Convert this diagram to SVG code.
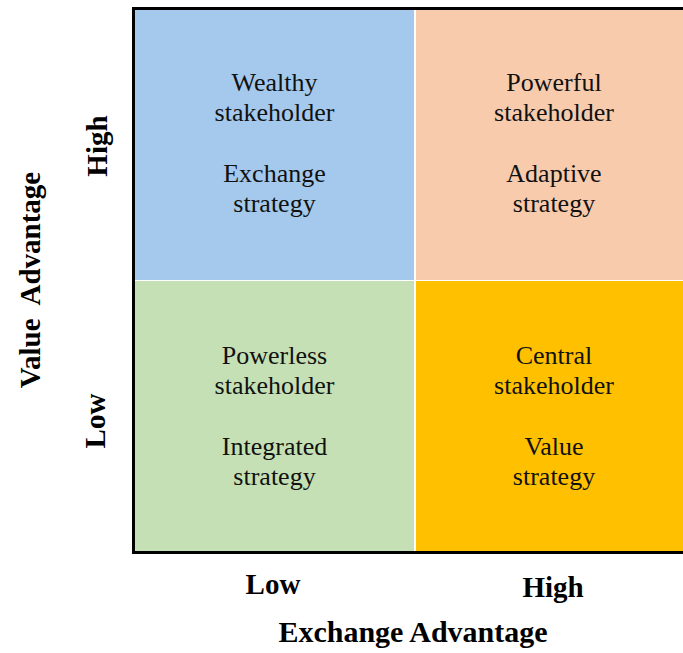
<svg xmlns="http://www.w3.org/2000/svg" width="683" height="653" viewBox="0 0 683 653">
  <style>
    .cell { font-family: "Liberation Serif", "Times New Roman", serif; font-size: 26px; fill: #111; text-anchor: middle; }
    .axis { font-family: "Liberation Serif", "Times New Roman", serif; font-size: 29px; font-weight: bold; fill: #000; text-anchor: middle; }
    .title { font-size: 30px; }
  </style>
  <rect width="683" height="653" fill="#ffffff"/>

  <!-- quadrants -->
  <g id="q-wealthy">
    <rect x="135" y="10" width="279" height="270" fill="#A4C9EC"/>
    <text class="cell" x="274.5" y="91">Wealthy</text>
    <text class="cell" x="274.5" y="121">stakeholder</text>
    <text class="cell" x="274.5" y="182">Exchange</text>
    <text class="cell" x="274.5" y="212">strategy</text>
  </g>
  <g id="q-powerful">
    <rect x="416" y="10" width="267" height="270" fill="#F8CBAD"/>
    <text class="cell" x="554" y="91">Powerful</text>
    <text class="cell" x="554" y="121">stakeholder</text>
    <text class="cell" x="554" y="182">Adaptive</text>
    <text class="cell" x="554" y="212">strategy</text>
  </g>
  <g id="q-powerless">
    <rect x="135" y="281" width="279" height="270" fill="#C5E0B4"/>
    <text class="cell" x="274.5" y="364">Powerless</text>
    <text class="cell" x="274.5" y="394">stakeholder</text>
    <text class="cell" x="274.5" y="455">Integrated</text>
    <text class="cell" x="274.5" y="485">strategy</text>
  </g>
  <g id="q-central">
    <rect x="416" y="281" width="267" height="270" fill="#FFC000"/>
    <text class="cell" x="554" y="364">Central</text>
    <text class="cell" x="554" y="394">stakeholder</text>
    <text class="cell" x="554" y="455">Value</text>
    <text class="cell" x="554" y="485">strategy</text>
  </g>

  <!-- axes frame -->
  <g id="axes" fill="none" stroke="#000" stroke-width="3">
    <polyline points="683,8.5 133.5,8.5 133.5,552.5 683,552.5"/>
  </g>

  <!-- axis labels -->
  <g id="labels">
    <text class="axis" x="273" y="594">Low</text>
    <text class="axis" x="553" y="597">High</text>
    <text class="axis title" x="413" y="642">Exchange Advantage</text>
    <text class="axis" transform="translate(107,146) rotate(-90)" x="0" y="0">High</text>
    <text class="axis" transform="translate(105,421) rotate(-90)" x="0" y="0">Low</text>
    <text class="axis" transform="translate(40,280) rotate(-90)" x="0" y="0" xml:space="preserve">Value  Advantage</text>
  </g>
</svg>
